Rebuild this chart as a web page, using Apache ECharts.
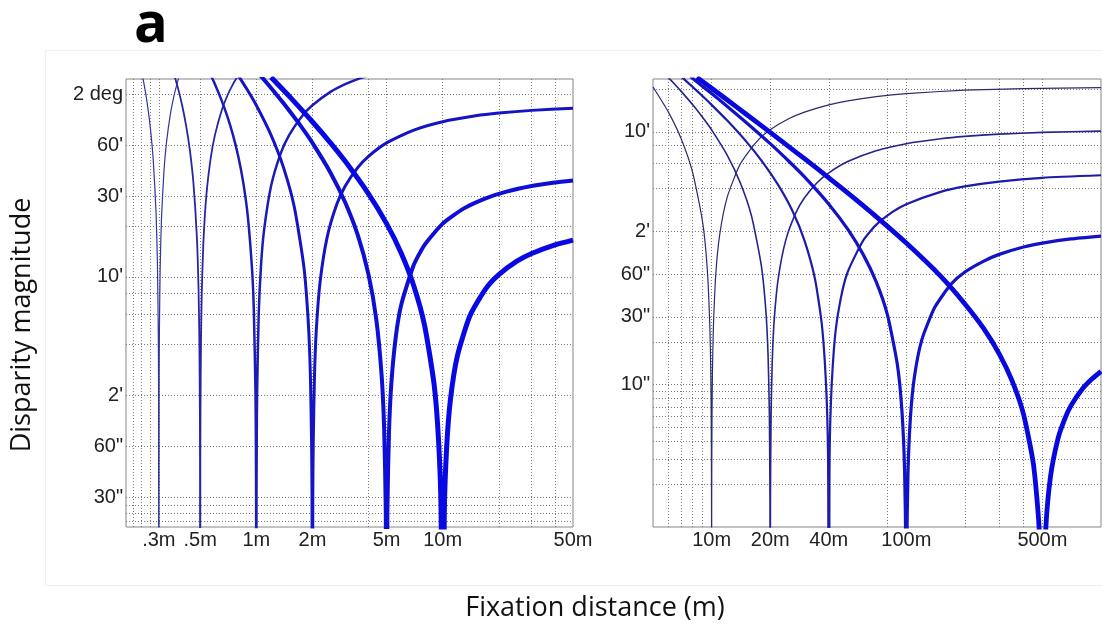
<!DOCTYPE html>
<html>
<head>
<meta charset="utf-8">
<script src="https://cdn.jsdelivr.net/npm/echarts@6/dist/echarts.min.js"></script>
<style>
  html, body { margin: 0; padding: 0; background: #fff; }
  #chart { width: 1102px; height: 638px; }
</style>
</head>
<body>
<div id="chart"></div>
<script>
// disparity curves: [fixation distance (m), disparity (arcsec)]
// left panel: objects at .3m .5m 1m 2m 5m 10m
const near03 = [[0.24,10313],[0.25,8251],[0.26,6347],[0.27,4584],[0.28,2947],[0.29,1423],[0.295,699],[0.298,277],[0.299,138],[0.3,1],[0.301,136],[0.302,272],[0.305,676],[0.31,1330],[0.32,2578],[0.33,3750],[0.345,5381],[0.36,6875],[0.38,8685],[0.39,9520]];
const near05 = [[0.36,9626],[0.38,7816],[0.4,6188],[0.42,4715],[0.44,3375],[0.46,2152],[0.48,1031],[0.49,505],[0.495,250],[0.498,99],[0.499,50],[0.5,1],[0.501,49],[0.502,99],[0.505,245],[0.51,485],[0.52,952],[0.54,1833],[0.57,3040],[0.6,4125],[0.65,5712],[0.7,7072],[0.75,8251],[0.8,9282]];
const near1 = [[0.56,9724],[0.6,8251],[0.65,6664],[0.7,5304],[0.75,4125],[0.8,3094],[0.85,2184],[0.9,1375],[0.95,651],[0.97,383],[0.99,125],[0.995,62],[0.998,25],[1,1],[1.002,25],[1.005,62],[1.01,123],[1.03,360],[1.06,700],[1.1,1125],[1.2,2063],[1.35,3209],[1.5,4125],[1.75,5304],[2,6188],[2.5,7426],[3,8251],[3.5,8840],[4,9282]];
const near2 = [[0.8,9282],[0.9,7563],[1,6188],[1.2,4125],[1.4,2652],[1.6,1547],[1.8,688],[1.9,326],[1.95,159],[1.98,62],[1.99,31],[2,1],[2.01,31],[2.02,61],[2.05,151],[2.1,295],[2.2,563],[2.4,1031],[2.7,1604],[3,2063],[3.5,2652],[4,3094],[5,3713],[7,4420],[10,4950],[15,5363],[20,5569],[30,5776],[50,5940]];
const near5 = [[1,9901],[1.2,7838],[1.4,6365],[1.7,4805],[2,3713],[2.5,2475],[3,1650],[3.5,1061],[4,619],[4.4,338],[4.7,158],[4.85,77],[4.95,25],[5,1],[5.05,25],[5.15,72],[5.3,140],[5.6,265],[6,413],[7,707],[8,928],[10,1238],[13,1523],[17,1747],[22,1913],[30,2063],[40,2166],[50,2228]];
const near10 = [[1.2,9076],[1.5,7013],[2,4950],[2.5,3713],[3,2888],[4,1856],[5,1238],[6,825],[7,530],[8,309],[9,138],[9.5,65],[9.8,25],[10,1],[10.2,24],[10.5,59],[11,113],[12,206],[14,354],[17,510],[20,619],[25,743],[30,825],[40,928],[50,990]];

// right panel: objects at 10m 20m 40m 100m 500m
const far10 = [[5,1238],[6,825],[7,530],[8,309],[9,138],[9.5,65],[9.8,25],[9.9,12.5],[9.95,6.2],[9.98,2.5],[9.99,1.24],[10,0.01],[10.01,1.24],[10.02,2.5],[10.05,6.2],[10.1,12.3],[10.2,24],[10.5,59],[11,113],[12,206],[14,354],[17,510],[20,619],[25,743],[30,825],[40,928],[50,990],[70,1061],[100,1114],[200,1176],[400,1207],[1000,1225]];
const far20 = [[5.8,1515],[6.5,1285],[7,1149],[8,928],[9,756],[10,619],[12,413],[14,265],[16,155],[18,69],[19,33],[19.5,16],[19.8,6.3],[19.95,1.55],[20,0.01],[20.05,1.54],[20.2,6.1],[20.5,15],[21,29.5],[22,56],[24,103],[27,160],[30,206],[35,265],[40,309],[50,371],[70,442],[100,495],[150,536],[200,557],[300,578],[500,594],[1000,606]];
const far40 = [[7,1459],[8,1238],[9,1066],[10,928],[12,722],[15,516],[18,378],[22,253],[26,167],[30,103],[34,55],[37,25],[39,7.9],[39.7,2.3],[40,0.01],[40.3,2.3],[41,7.5],[43,21.6],[46,40],[50,62],[60,103],[70,133],[85,164],[100,186],[150,227],[200,248],[300,268],[500,285],[1000,297]];
const far100 = [[7.8,1463],[9,1251],[10,1114],[12,908],[15,701],[20,495],[25,371],[30,289],[40,186],[50,124],[60,82.5],[70,53],[80,31],[90,13.8],[95,6.5],[98,2.5],[99.5,0.62],[100,0.01],[100.5,0.62],[102,2.4],[105,5.9],[110,11.3],[120,20.6],[140,35],[170,51],[200,62],[250,74],[300,82.5],[400,93],[500,99],[700,106],[1000,111]];
const far500 = [[8.4,1449],[9,1350],[10,1213],[12,1007],[15,800],[20,594],[25,470],[30,388],[40,285],[50,223],[70,152],[100,99],[150,58],[200,37],[250,24.8],[300,16.5],[350,10.6],[400,6.2],[450,2.75],[480,1.03],[495,0.25],[500,0.01],[505,0.25],[520,0.95],[550,2.25],[600,4.13],[650,5.7],[700,7.1],[800,9.3],[900,11],[1000,12.4]];

// tick labels
const leftXTicks = [0.3, 0.5, 1, 2, 5, 10, 50];
const leftXLabels = ['.3m', '.5m', '1m', '2m', '5m', '10m', '50m'];
const leftYTicks = [7200, 3600, 1800, 600, 120, 60, 30];
const leftYLabels = ['2 deg', "60'", "30'", "10'", "2'", '60"', '30"'];
const rightXTicks = [10, 20, 40, 100, 500];
const rightXLabels = ['10m', '20m', '40m', '100m', '500m'];
const rightYTicks = [600, 120, 60, 30, 10];
const rightYLabels = ["10'", "2'", '60"', '30"', '10"'];

// dotted grid lines
const leftXGrid = [0.223, 0.242, 0.27, 0.3, 0.5, 1, 2, 4, 5, 10, 20, 30, 40];
const leftYGrid = [7200, 3600, 1800, 1200, 600, 480, 360, 240, 120, 60, 30, 27, 24, 21.5];
const rightXGrid = [6, 7, 8, 9, 10, 20, 40, 80, 100, 200, 300, 400, 500];
const rightYGrid = [1200, 600, 480, 360, 240, 120, 60, 30, 20, 10, 9, 8, 7, 6, 5, 4, 3, 2];

const chart = echarts.init(document.getElementById('chart'));

const pickLabel = (ticks, labels) => (v) => {
  const i = ticks.findIndex(t => Math.abs(t - v) / t < 1e-3);
  return i < 0 ? '' : labels[i];
};

const tickFont = { fontFamily: 'Liberation Sans', fontSize: 20, color: '#222' };

const makeAxis = (gridIndex, min, max, ticks, labels, margin) => ({
  type: 'log',
  logBase: 10,
  gridIndex,
  min,
  max,
  axisLine: { show: false },
  axisTick: { show: false },
  splitLine: { show: false },
  minorTick: { show: false },
  axisLabel: { ...tickFont, margin, customValues: ticks, formatter: pickLabel(ticks, labels) }
});

const curve = (data, idx, color, width) => ({
  type: 'line',
  xAxisIndex: idx,
  yAxisIndex: idx,
  data,
  symbol: 'none',
  smooth: 0.2,
  clip: true,
  silent: true,
  z: 3,
  lineStyle: { color, width, join: 'round' }
});

const gridLines = (idx, xs, ys) => ({
  type: 'line',
  xAxisIndex: idx,
  yAxisIndex: idx,
  data: [],
  silent: true,
  markLine: {
    silent: true,
    z: 1,
    symbol: 'none',
    label: { show: false },
    emphasis: { disabled: true },
    lineStyle: { type: [1, 2], color: '#7a7a7a', width: 1 },
    data: xs.map(v => ({ xAxis: v })).concat(ys.map(v => ({ yAxis: v })))
  }
});

const panel = { show: true, borderColor: '#858585', borderWidth: 1, backgroundColor: 'transparent' };

chart.setOption({
  animation: false,
  backgroundColor: '#fff',
  grid: [
    { ...panel, left: 126, top: 79, width: 447, height: 448 },
    { ...panel, left: 653, top: 79, width: 448, height: 448 }
  ],
  xAxis: [
    makeAxis(0, 0.2, 50, leftXTicks, leftXLabels, 3),
    makeAxis(1, 5, 1000, rightXTicks, rightXLabels, 3)
  ],
  yAxis: [
    makeAxis(0, 20, 8850, leftYTicks, leftYLabels, 3),
    makeAxis(1, 1, 1410, rightYTicks, rightYLabels, 3)
  ],
  series: [
    gridLines(0, leftXGrid, leftYGrid),
    gridLines(1, rightXGrid, rightYGrid),
    curve(near03, 0, '#34349a', 1.2),
    curve(near05, 0, '#2626a4', 1.8),
    curve(near1, 0, '#1c1cb4', 2.5),
    curve(near2, 0, '#1414c4', 3),
    curve(near5, 0, '#0e0ed4', 4),
    curve(near10, 0, '#0808e4', 5),
    curve(far10, 1, '#2a2a70', 1.2),
    curve(far20, 1, '#24248c', 1.6),
    curve(far40, 1, '#1c1caa', 2.2),
    curve(far100, 1, '#1212c8', 3.2),
    curve(far500, 1, '#0808de', 4.8)
  ],
  graphic: [
    { type: 'rect', silent: true, shape: { x: 45.5, y: 50.5, width: 1060, height: 535 },
      style: { fill: 'none', stroke: '#efefef', lineWidth: 1 } },
    { type: 'text', silent: true, x: 151, y: 26,
      style: { text: 'a', fontFamily: 'Open Sans', fontWeight: 'bold', fontSize: 56, fill: '#000', align: 'center', verticalAlign: 'middle' } },
    { type: 'text', silent: true, x: 595, y: 608,
      style: { text: 'Fixation distance (m)', fontFamily: 'Open Sans', fontSize: 27, fill: '#111', align: 'center', verticalAlign: 'middle' } },
    { type: 'text', silent: true, x: 22, y: 325, rotation: Math.PI / 2,
      style: { text: 'Disparity magnitude', fontFamily: 'Open Sans', fontSize: 27, fill: '#111', align: 'center', verticalAlign: 'middle' } }
  ]
});
</script>
</body>
</html>
